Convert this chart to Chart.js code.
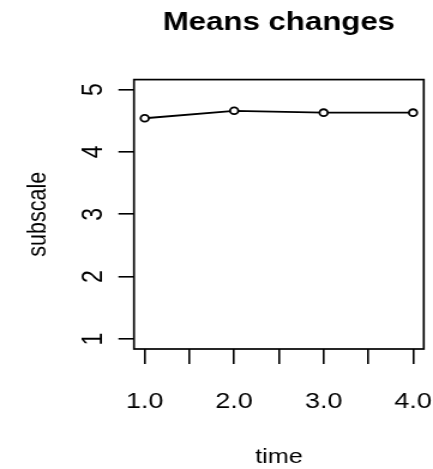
<!DOCTYPE html>
<html>
<head>
<meta charset="utf-8">
<script src="https://cdn.jsdelivr.net/npm/chart.js@4"></script>
<style>
  html, body { margin: 0; padding: 0; background: #fff; }
</style>
</head>
<body>
<!-- drawn narrower and stretched sideways to get the wide base-graphics look -->
<canvas id="myChart" width="361" height="469" style="width:433px;height:469px;display:block"></canvas>
<script>
const ctx = document.getElementById('myChart');

const times = [1, 2, 3, 4];
const means = [4.54, 4.66, 4.63, 4.63];
const xTickValues = [1, 1.5, 2, 2.5, 3, 3.5, 4];
const xTickLabels = ['1.0', '', '2.0', '', '3.0', '', '4.0'];
const yTickValues = [1, 2, 3, 4, 5];

Chart.defaults.font.family = "'Liberation Sans', Arial, sans-serif";
Chart.defaults.color = '#000';

// box around the plotting region
const plotBox = {
    id: 'plotBox',
    afterDraw(chart) {
        const a = chart.chartArea;
        const c = chart.ctx;
        c.save();
        c.strokeStyle = '#000';
        c.lineWidth = 1.7;
        c.strokeRect(a.left, a.top, a.right - a.left, a.bottom - a.top);
        c.restore();
    }
};

new Chart(ctx, {
    type: 'line',
    data: {
        datasets: [{
            data: times.map((t, i) => ({ x: t, y: means[i] })),
            borderColor: '#000',
            borderWidth: 1.8,
            pointRadius: 3.4,
            pointBorderWidth: 1.8,
            pointBackgroundColor: '#fff',
            pointBorderColor: '#000',
            tension: 0
        }]
    },
    plugins: [plotBox],
    options: {
        responsive: false,
        animation: false,
        layout: { padding: { left: 0, right: 7.7, top: 0, bottom: 0 } },
        plugins: {
            legend: { display: false },
            tooltip: { enabled: false },
            title: {
                display: true,
                text: 'Means changes',
                fullSize: false,
                color: '#000',
                font: { size: 26, weight: 'bold', lineHeight: 1.2 },
                padding: { top: 7.4, bottom: 41 }
            }
        },
        scales: {
            x: {
                type: 'linear',
                min: 0.88,
                max: 4.12,
                afterBuildTicks: (s) => { s.ticks = xTickValues.map(v => ({ value: v })); },
                afterFit: (s) => {
                    s.height = 120;
                    s.paddingLeft = 0;
                    s.paddingRight = 0;
                },
                border: { display: false },
                grid: {
                    drawOnChartArea: false,
                    drawTicks: true,
                    tickLength: 15,
                    color: '#000',
                    lineWidth: 1.6
                },
                ticks: {
                    padding: 24,
                    autoSkip: false,
                    maxRotation: 0,
                    font: { size: 22.5, lineHeight: 1.2 },
                    callback: (v) => {
                        const i = xTickValues.indexOf(v);
                        return i >= 0 ? xTickLabels[i] : '';
                    }
                },
                title: {
                    display: true,
                    text: 'time',
                    font: { size: 21, lineHeight: 1 },
                    padding: { top: 0, bottom: 0.8 }
                }
            },
            y: {
                min: 0.84,
                max: 5.16,
                afterBuildTicks: (s) => { s.ticks = yTickValues.map(v => ({ value: v })); },
                afterFit: (s) => {
                    s.width = 111.7;
                    s.paddingTop = 0;
                    s.paddingBottom = 0;
                },
                border: { display: false },
                grid: {
                    drawOnChartArea: false,
                    drawTicks: true,
                    tickLength: 13,
                    color: '#000',
                    lineWidth: 1.6
                },
                ticks: {
                    padding: 14,
                    minRotation: 90,
                    maxRotation: 90,
                    crossAlign: 'center',
                    font: { size: 23, lineHeight: 1.2 }
                },
                title: {
                    display: true,
                    text: 'subscale',
                    font: { size: 21.5, lineHeight: 1 },
                    padding: { top: 21, bottom: 0 }
                }
            }
        }
    }
});
</script>
</body>
</html>
